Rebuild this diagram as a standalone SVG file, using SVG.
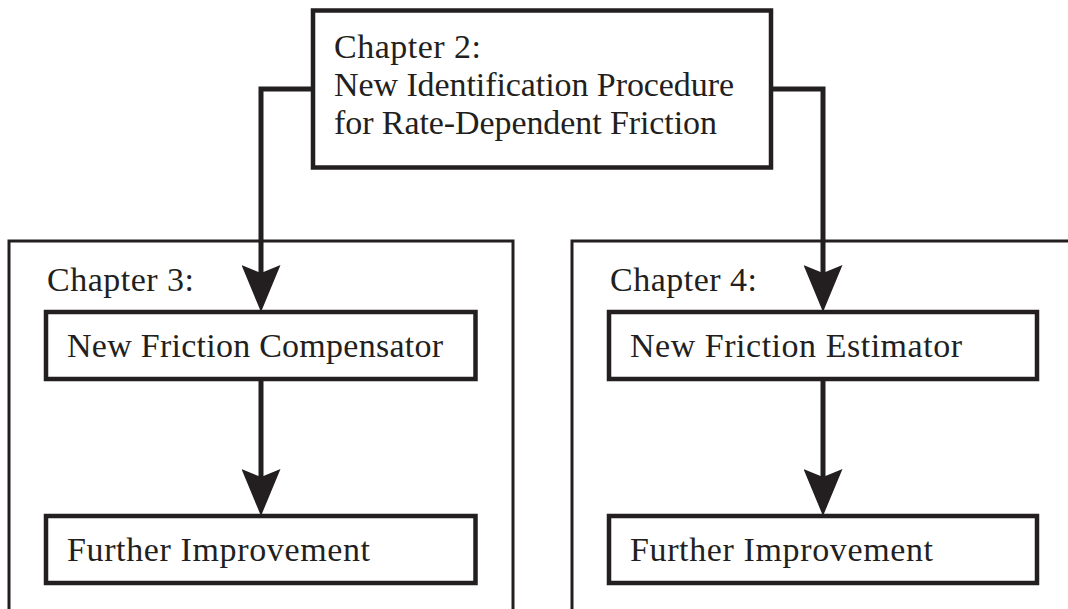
<svg xmlns="http://www.w3.org/2000/svg" width="1068" height="609" viewBox="0 0 1068 609">
  <style>
    .box { fill: #ffffff; stroke: #231f20; stroke-width: 4.5; }
    .frame { fill: none; stroke: #231f20; stroke-width: 3; }
    .link { fill: none; stroke: #231f20; stroke-width: 5; stroke-linejoin: miter; }
    .label { font-family: "Liberation Serif", "Times New Roman", serif; font-size: 34px; fill: #231f20; }
  </style>
  <defs>
    <marker id="stealth" viewBox="0 0 47 39" refX="8" refY="19.5" markerWidth="47" markerHeight="39" markerUnits="userSpaceOnUse" orient="auto">
      <path d="M0,0 L47,19.5 L0,39 L8,19.5 Z" fill="#231f20"/>
    </marker>
  </defs>

  <rect width="1068" height="609" fill="#ffffff"/>

  <!-- chapter frames, open towards the page edges -->
  <g id="chapter3">
    <path class="frame" d="M9,615 V241 H513 V615"/>
    <text class="label" x="47" y="291" textLength="147">Chapter 3:</text>
  </g>
  <g id="chapter4">
    <path class="frame" d="M572,615 V241 H1075"/>
    <text class="label" x="610" y="291" textLength="147">Chapter 4:</text>
  </g>

  <!-- connectors -->
  <g id="connectors">
    <path class="link" d="M315,89 H261 V273" marker-end="url(#stealth)"/>
    <path class="link" d="M769,89 H823 V273" marker-end="url(#stealth)"/>
    <path class="link" d="M261,379 V477" marker-end="url(#stealth)"/>
    <path class="link" d="M823,379 V477" marker-end="url(#stealth)"/>
  </g>

  <g id="chapter2">
    <rect class="box" x="313" y="10.5" width="458" height="157"/>
    <text class="label" x="334" y="58" textLength="147">Chapter 2:</text>
    <text class="label" x="334" y="96" textLength="400">New Identification Procedure</text>
    <text class="label" x="334" y="134" textLength="383">for Rate-Dependent Friction</text>
  </g>

  <g id="compensator">
    <rect class="box" x="46" y="312" width="429.5" height="67"/>
    <text class="label" x="67" y="357" textLength="376">New Friction Compensator</text>
  </g>
  <g id="improvement3">
    <rect class="box" x="46" y="516" width="429.5" height="67"/>
    <text class="label" x="67" y="561" textLength="303">Further Improvement</text>
  </g>

  <g id="estimator">
    <rect class="box" x="609" y="312" width="428" height="67"/>
    <text class="label" x="630" y="357" textLength="332">New Friction Estimator</text>
  </g>
  <g id="improvement4">
    <rect class="box" x="609" y="516" width="428" height="67"/>
    <text class="label" x="630" y="561" textLength="303">Further Improvement</text>
  </g>
</svg>
